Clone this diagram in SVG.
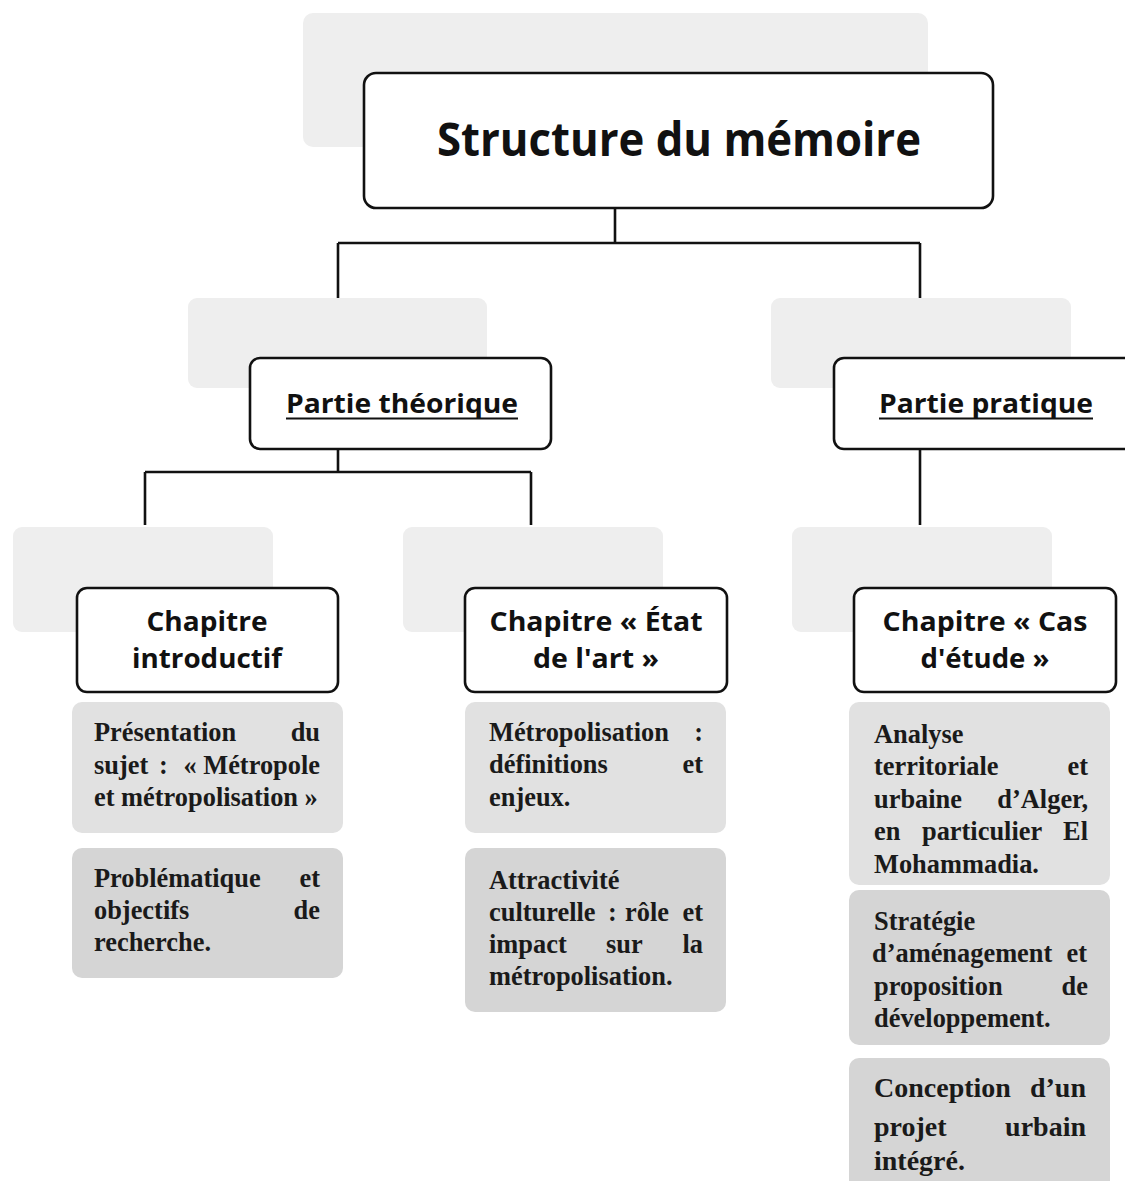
<svg xmlns="http://www.w3.org/2000/svg" width="1125" height="1181" viewBox="0 0 1125 1181">
<style>
.bg{fill:#ffffff}
.shadow{fill:#eeeeee}
.box{fill:#ffffff;stroke:#111111;stroke-width:2.6}
.c1{fill:#e1e1e1}
.c2{fill:#d5d5d5}
.conn{fill:none;stroke:#111111;stroke-width:2.6}
.faint{fill:none;stroke:#cfcfcf;stroke-width:1.2}
.h{font-family:"Open Sans","DejaVu Sans",sans-serif;font-weight:bold;fill:#111111;text-anchor:middle}
.t{font-family:"Liberation Serif","Times New Roman",serif;font-weight:bold;font-size:26.4px;fill:#1a1a1a}
.t3{font-family:"Liberation Serif","Times New Roman",serif;font-weight:bold;font-size:28px;fill:#1a1a1a}
.r{text-anchor:end}
</style>
<rect class="bg" x="0" y="0" width="1125" height="1181"/>
<g id="connectors">
  <path class="conn" d="M615 208 V243 M338 243 H920 M338 243 V358 M920 243 V358"/>
  <path class="conn" d="M338 449 V472 M145 472 H531 M145 472 V525 M531 472 V525"/>
  <path class="conn" d="M920 449 V525"/>
  <path class="faint" d="M393 53 V92 M615 150 V208 M338 392 V449 M920 392 V449"/>
</g>
<g id="node-structure">
  <rect class="shadow" x="303" y="13" width="625" height="134" rx="10"/>
  <rect class="box" x="364" y="73" width="629" height="135" rx="12"/>
  <text class="h" x="679" y="156" font-size="47" textLength="484" lengthAdjust="spacingAndGlyphs">Structure du mémoire</text>
</g>
<g id="node-partie-theorique">
  <rect class="shadow" x="188" y="298" width="299" height="90" rx="9"/>
  <rect class="box" x="250" y="358" width="301" height="91" rx="10"/>
  <text class="h" x="402" y="413" font-size="27" textLength="232" lengthAdjust="spacingAndGlyphs">Partie théorique</text>
  <line x1="286" y1="418.5" x2="518" y2="418.5" stroke="#111111" stroke-width="2"/>
</g>
<g id="node-partie-pratique">
  <rect class="shadow" x="771" y="298" width="300" height="90" rx="9"/>
  <rect class="box" x="834" y="358" width="300" height="91" rx="10"/>
  <text class="h" x="986" y="413" font-size="27" textLength="214" lengthAdjust="spacingAndGlyphs">Partie pratique</text>
  <line x1="879" y1="418.5" x2="1093" y2="418.5" stroke="#111111" stroke-width="2"/>
</g>
<g id="node-chapitre-intro">
  <rect class="shadow" x="13" y="527" width="260" height="105" rx="9"/>
  <rect class="box" x="77" y="588" width="261" height="104" rx="10"/>
  <text class="h" x="207" y="631" font-size="26" textLength="121" lengthAdjust="spacingAndGlyphs">Chapitre</text>
  <text class="h" x="207" y="668" font-size="26" textLength="150" lengthAdjust="spacingAndGlyphs">introductif</text>
</g>
<g id="node-chapitre-etat">
  <rect class="shadow" x="403" y="527" width="260" height="105" rx="9"/>
  <rect class="box" x="465" y="588" width="262" height="104" rx="10"/>
  <text class="h" x="596" y="631" font-size="26" textLength="213" lengthAdjust="spacingAndGlyphs">Chapitre « État</text>
  <text class="h" x="596" y="668" font-size="26" textLength="126" lengthAdjust="spacingAndGlyphs">de l'art »</text>
</g>
<g id="node-chapitre-cas">
  <rect class="shadow" x="792" y="527" width="260" height="105" rx="9"/>
  <rect class="box" x="854" y="588" width="262" height="104" rx="10"/>
  <text class="h" x="985" y="631" font-size="26" textLength="205" lengthAdjust="spacingAndGlyphs">Chapitre « Cas</text>
  <text class="h" x="985" y="668" font-size="26" textLength="129" lengthAdjust="spacingAndGlyphs">d'étude »</text>
</g>
<g id="item-presentation">
  <rect class="c1" x="72" y="702" width="271" height="131" rx="10"/>
  <text class="t" y="741"><tspan x="94">Présentation</tspan><tspan class="r" x="320">du</tspan></text>
  <text class="t" y="774"><tspan x="94">sujet</tspan><tspan x="159">:</tspan><tspan class="r" x="320">« Métropole</tspan></text>
  <text class="t" y="806"><tspan x="94">et métropolisation »</tspan></text>
</g>
<g id="item-problematique">
  <rect class="c2" x="72" y="848" width="271" height="130" rx="10"/>
  <text class="t" y="887"><tspan x="94">Problématique</tspan><tspan class="r" x="320">et</tspan></text>
  <text class="t" y="919"><tspan x="94">objectifs</tspan><tspan class="r" x="320">de</tspan></text>
  <text class="t" y="951"><tspan x="94">recherche.</tspan></text>
</g>
<g id="item-metropolisation">
  <rect class="c1" x="465" y="702" width="261" height="131" rx="10"/>
  <text class="t" y="741"><tspan x="489">Métropolisation</tspan><tspan class="r" x="703">:</tspan></text>
  <text class="t" y="773"><tspan x="489">définitions</tspan><tspan class="r" x="703">et</tspan></text>
  <text class="t" y="806"><tspan x="489">enjeux.</tspan></text>
</g>
<g id="item-attractivite">
  <rect class="c2" x="465" y="848" width="261" height="164" rx="10"/>
  <text class="t" y="889"><tspan x="489">Attractivité</tspan></text>
  <text class="t" y="921"><tspan x="489">culturelle</tspan><tspan x="608">:</tspan><tspan x="625">rôle</tspan><tspan class="r" x="703">et</tspan></text>
  <text class="t" y="953"><tspan x="489">impact</tspan><tspan x="606">sur</tspan><tspan class="r" x="703">la</tspan></text>
  <text class="t" y="985"><tspan x="489">métropolisation.</tspan></text>
</g>
<g id="item-analyse">
  <rect class="c1" x="849" y="702" width="261" height="183" rx="10"/>
  <text class="t" y="743"><tspan x="874">Analyse</tspan></text>
  <text class="t" y="775"><tspan x="874">territoriale</tspan><tspan class="r" x="1088">et</tspan></text>
  <text class="t" y="808"><tspan x="874">urbaine</tspan><tspan class="r" x="1088">d’Alger,</tspan></text>
  <text class="t" y="840"><tspan x="874">en</tspan><tspan x="922">particulier</tspan><tspan class="r" x="1088">El</tspan></text>
  <text class="t" y="873"><tspan x="874">Mohammadia.</tspan></text>
</g>
<g id="item-strategie">
  <rect class="c2" x="849" y="890" width="261" height="155" rx="10"/>
  <text class="t" y="930"><tspan x="874">Stratégie</tspan></text>
  <text class="t" y="962" font-size="25.6"><tspan x="872">d’aménagement</tspan><tspan class="r" x="1087">et</tspan></text>
  <text class="t" y="995"><tspan x="874">proposition</tspan><tspan class="r" x="1088">de</tspan></text>
  <text class="t" y="1027"><tspan x="874">développement.</tspan></text>
</g>
<g id="item-conception">
  <rect class="c2" x="849" y="1058" width="261" height="140" rx="10"/>
  <text class="t3" y="1097"><tspan x="874">Conception</tspan><tspan class="r" x="1086">d’un</tspan></text>
  <text class="t3" y="1136"><tspan x="874">projet</tspan><tspan class="r" x="1086">urbain</tspan></text>
  <text class="t3" y="1170"><tspan x="874">intégré.</tspan></text>
</g>
</svg>
